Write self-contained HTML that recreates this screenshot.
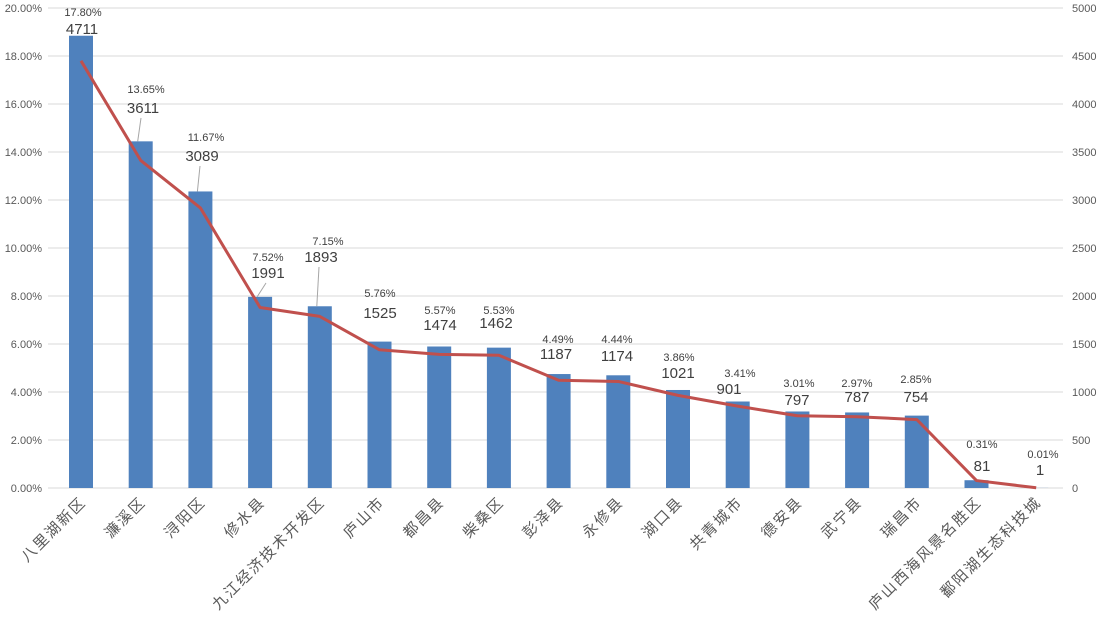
<!DOCTYPE html>
<html><head><meta charset="utf-8"><style>
body{margin:0;background:#fff}
svg{display:block;font-family:"Liberation Sans","Noto Sans CJK SC",sans-serif}
</style></head><body>
<svg width="1108" height="622" viewBox="0 0 1108 622" xmlns="http://www.w3.org/2000/svg">
<g id="grid" stroke="#d9d9d9" stroke-width="1"></g>
<g id="bars" fill="#4f81bd"></g>
<g id="lead" stroke="#a6a6a6" stroke-width="1"></g>
<polyline id="line" fill="none" stroke="#c0504d" stroke-width="3" stroke-linejoin="round"/>
<g id="ax" font-size="11" fill="#595959"></g>
<g id="lbl" fill="#404040" text-anchor="middle"></g>
<g id="xl" font-size="15" fill="#595959" text-anchor="end" letter-spacing="1.9"></g>
</svg>
<script>
const NS="http://www.w3.org/2000/svg";
function el(p,t,a,txt){const e=document.createElementNS(NS,t);for(const k in a)e.setAttribute(k,a[k]);if(txt!=null)e.textContent=txt;document.getElementById(p).appendChild(e);return e;}
const names=["八里湖新区","濂溪区","浔阳区","修水县","九江经济技术开发区","庐山市","都昌县","柴桑区","彭泽县","永修县","湖口县","共青城市","德安县","武宁县","瑞昌市","庐山西海风景名胜区","鄱阳湖生态科技城"];
const cnt=[4711,3611,3089,1991,1893,1525,1474,1462,1187,1174,1021,901,797,787,754,81,1];
const pct=[17.80,13.65,11.67,7.52,7.15,5.76,5.57,5.53,4.49,4.44,3.86,3.41,3.01,2.97,2.85,0.31,0.01];
const P=[[83,12,82,29],[146,89,143,108],[206,137,202,156],[268,257,268,273],[328,241,321,257],[380,293,380,313],[440,310,440,325],[499,310,496,323],[558,339,556,354],[617,339,617,356],[679,357,678,373],[740,373,729,389],[799,383,797,400],[857,383,857,397],[916,379,916,397],[982,444,982,466],[1043,454,1040,470]];
for(let i=0;i<=10;i++){const y=488-i*48;el("grid","line",{x1:48,x2:1063,y1:y,y2:y});
el("ax","text",{x:42,y:y+4,"text-anchor":"end"},(i*2).toFixed(2)+"%");
el("ax","text",{x:1072,y:y+4},String(i*500));}
let pts=[];
for(let i=0;i<17;i++){const cx=81+i*59.7;const h=cnt[i]/5000*480;
el("bars","rect",{x:cx-12,y:488-h,width:24,height:h});
pts.push(cx+","+(488-pct[i]*24));
const p=P[i];
el("lbl","text",{x:p[0],y:p[1]+4,"font-size":11},pct[i].toFixed(2)+"%");
el("lbl","text",{x:p[2],y:p[3]+5,"font-size":15},String(cnt[i]));
if(i>=1&&i<=4){el("lead","line",{x1:p[2]-2,y1:p[3]+10,x2:cx-3,y2:488-h});}
el("xl","text",{x:cx+6,y:503,transform:"rotate(-45 "+(cx+6)+" 503)"},names[i]);}
document.getElementById("line").setAttribute("points",pts.join(" "));
</script>
</body></html>
